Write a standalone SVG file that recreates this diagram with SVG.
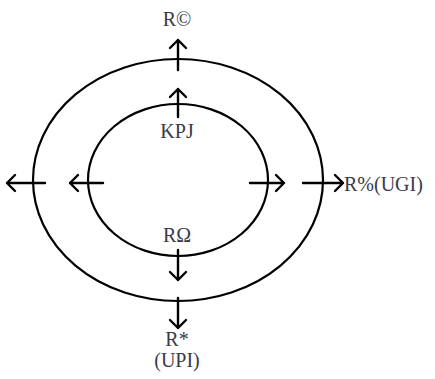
<svg xmlns="http://www.w3.org/2000/svg" width="435" height="379" viewBox="0 0 435 379">
<style>
.ring{fill:none;stroke:#000;stroke-width:2.2}
.ar{fill:none;stroke:#000;stroke-width:2.4;stroke-linecap:round;stroke-linejoin:round}
.lb{font-family:"Liberation Serif",serif;font-size:20px;fill:#3a3a48}
</style>
<rect width="435" height="379" fill="#fff"/>
<g id="outer"><ellipse class="ring" cx="178" cy="180" rx="145" ry="121"/></g>
<g id="inner"><ellipse class="ring" cx="178" cy="180" rx="90" ry="76"/></g>
<g id="connectors">
<path class="ar" d="M178 70V40M170 48L178 40L186 48"/>
<path class="ar" d="M178 117V89M170 97L178 89L186 97"/>
<path class="ar" d="M45 183H7M15 175L7 183L15 191"/>
<path class="ar" d="M103 183H70M78 175L70 183L78 191"/>
<path class="ar" d="M250 183H284M276 175L284 183L276 191"/>
<path class="ar" d="M303 183H343M335 175L343 183L335 191"/>
<path class="ar" d="M178 250V280M170 272L178 280L186 272"/>
<path class="ar" d="M178 298V328M170 320L178 328L186 320"/>
</g>
<g id="labels">
<text class="lb" x="177" y="26" text-anchor="middle">R©</text>
<text class="lb" x="177" y="138" text-anchor="middle">KPJ</text>
<text class="lb" x="344" y="191">R%(UGI)</text>
<text class="lb" x="177" y="242" text-anchor="middle">RΩ</text>
<text class="lb" x="177" y="346" text-anchor="middle">R*</text>
<text class="lb" x="177" y="367" text-anchor="middle">(UPI)</text>
</g>
</svg>
